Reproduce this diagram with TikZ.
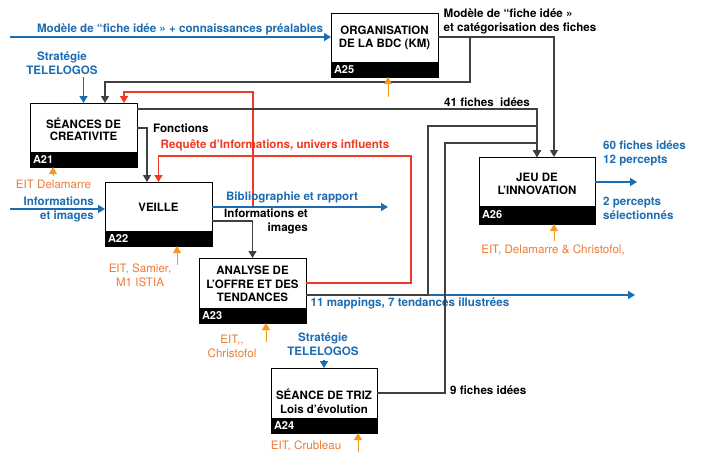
\documentclass[tikz,border=0pt]{standalone}
\usepackage{fontspec}
\setmainfont{TeX Gyre Heros}
\usetikzlibrary{arrows.meta}
\definecolor{idefblue}{RGB}{28,108,178}
\definecolor{idefred}{RGB}{238,58,36}
\definecolor{idefgold}{RGB}{244,154,30}
\definecolor{ideforange}{RGB}{238,122,52}
\tikzset{
  act/.style={draw, line width=1pt, minimum width=107pt, minimum height=64pt, inner sep=0pt, outer sep=0pt},
  num/.style={fill=black, text=white, font=\fontsize{11}{12}\selectfont\bfseries, anchor=south west,
    minimum width=107pt, minimum height=15pt, inner xsep=3pt, inner ysep=0pt, text width=101pt,
    align=left, outer sep=0pt},
  ttl/.style={font=\fontsize{11.5}{12.5}\selectfont\bfseries, align=center, inner sep=0pt},
  lbl/.style={font=\fontsize{11.6}{14}\selectfont\bfseries, align=left, inner sep=0pt},
  blbl/.style={lbl, text=idefblue},
  rlbl/.style={lbl, text=idefred},
  olbl/.style={font=\fontsize{11.6}{14}\selectfont, text=ideforange, align=center, inner sep=0pt},
  flow/.style={draw=idefblue, line width=1.5pt, -{Triangle[width=8pt,length=7pt]}},
  ctrl/.style={draw=black!75, line width=1.1pt, -{Triangle[width=8pt,length=7pt]}},
  req/.style={draw=idefred, line width=1.5pt, -{Triangle[width=8pt,length=7pt]}},
  mech/.style={draw=idefgold, line width=1pt, -{Triangle[width=8pt,length=7pt]}},
}
\begin{document}
\begin{tikzpicture}[x=1pt,y=-1pt]
\useasboundingbox (0,0) rectangle (701,456);
\node[act] (a25) at (384.5,45) {};
\node[num] (n25) at (a25.south west) {A25};
\node[ttl] (t25) at (384.5,38) {ORGANISATION\\DE LA BDC (KM)};
\node[act] (a21) at (83.5,135) {};
\node[num] (n21) at (a21.south west) {A21};
\node[ttl] (t21) at (83.5,129.5) {SÉANCES DE\\CREATIVITE};
\node[act] (a22) at (158.5,214) {};
\node[num] (n22) at (a22.south west) {A22};
\node[ttl] (t22) at (158.5,207) {VEILLE};
\node[act, minimum height=65pt] (a23) at (252.5,290.5) {};
\node[num] (n23) at (a23.south west) {A23};
\node[ttl, font=\fontsize{11.5}{13.5}\selectfont\bfseries] (t23) at (252.5,284) {ANALYSE DE\\L'OFFRE ET DES\\TENDANCES};
\node[act, minimum width=106pt, minimum height=65pt] (a24) at (324,400.5) {};
\node[num, minimum width=106pt, text width=100pt] (n24) at (a24.south west) {A24};
\node[ttl, font=\fontsize{11.5}{14}\selectfont\bfseries] (t24) at (324,401) {SÉANCE DE TRIZ\\Lois d'évolution};
\node[act, minimum width=116pt, minimum height=67pt] (a26) at (537,190.5) {};
\node[num, minimum width=116pt, text width=110pt, minimum height=18pt] (n26) at (a26.south west) {A26};
\node[ttl] (t26) at (537,184) {JEU DE\\L’INNOVATION};

\coordinate (in25) at (10,37);
\coordinate (in22) at (10,209);
\coordinate (bib) at (388,207);
\coordinate (out23) at (635,295);
\coordinate (out26) at (637,182);
\coordinate (s21) at (83.5,77);
\coordinate (s24) at (324,360);
\coordinate (r21) at (253,207);
\coordinate (m25) at (388,97);
\coordinate (m21) at (53,176);
\coordinate (m22) at (177,265);
\coordinate (m23) at (266,342);
\coordinate (m24) at (358,452);
\coordinate (m26) at (554,241);

\draw[flow] (in25) -- (a25.west |- in25);
\node[blbl] (l1) at (180,29) {Modèle de “fiche idée » + connaissances préalables};
\node[blbl, align=center] (l2) at (62,63) {Stratégie\\TELELOGOS};
\draw[flow] (s21) -- (a21.north);
\draw[ctrl] (a25.east |- in25) -| ([xshift=17pt]a26.north);
\draw[ctrl] (470,37) |- (105,82) -- ([xshift=21.5pt]a21.north);
\node[lbl] (l3) at (520,21) {Modèle de “fiche idée »\\et catégorisation des fiches};
\draw[req] (r21) |- (124,92) -- ([xshift=40.5pt]a21.north);
\draw[ctrl] (a21.east |- 0,109) -| (a26.north);
\node[lbl] (l4) at (487,102) {41 fiches\ \ idées};
\draw[ctrl] (a21.east |- 0,128) -| ([xshift=-11.5pt]a22.north);
\node[lbl, anchor=west] (l5) at (153,128) {Fonctions};
\draw[req] (a23.east |- 0,283) -| (411,156) -| (a22.north);
\node[rlbl] (l6) at (275,145) {Requête d'Informations, univers influents};
\draw[flow] (in22) -- (a22.west |- in22);
\node[blbl, align=right, anchor=east] (l7) at (94,209.5) {Informations\\et images};
\draw[flow] (a22.east |- bib) -- (bib);
\node[blbl] (l8) at (292,197) {Bibliographie et rapport};
\draw[ctrl] (a22.east |- 0,221) -| (a23.north);
\node[lbl, align=right, anchor=east] (l9) at (308,221) {Informations et\\images};
\draw[flow] (a23.east |- out23) -- (out23);
\draw[ctrl] (a23.east |- out23) -| (428,126) -| (a26.north);
\node[blbl] (l10) at (410,303) {11 mappings, 7 tendances illustrées};
\draw[ctrl] (a24.east |- 0,393) -| (445,143) -| (a26.north);
\node[lbl, anchor=west] (l11) at (450,390) {9 fiches idées};
\node[blbl, align=center] (l12) at (323,344) {Stratégie\\TELELOGOS};
\draw[flow] (s24) -- (a24.north);
\draw[flow] (a26.east |- out26) -- (out26);
\node[blbl, anchor=west] (l13) at (603,153) {60 fiches idées\\12 percepts};
\node[blbl, anchor=west] (l14) at (603,208) {2 percepts\\sélectionnés};

\draw[mech] (m25) -- (m25 |- a25.south);
\draw[mech] (m21) -- (m21 |- a21.south);
\node[olbl] (o21) at (53.5,184) {EIT Delamarre};
\draw[mech] (m22) -- (m22 |- a22.south);
\node[olbl] (o22) at (140,275) {EIT, Samier,\\M1 ISTIA};
\draw[mech] (m23) -- (m23 |- a23.south);
\node[olbl] (o23) at (232,346) {EIT{,}{,}\\Christofol};
\draw[mech] (m24) -- (m24 |- a24.south);
\node[olbl] (o24) at (306,446) {EIT, Crubleau};
\draw[mech] (m26) -- (m26 |- a26.south);
\node[olbl] (o26) at (553,250) {EIT, Delamarre \& Christofol,};
\end{tikzpicture}
\end{document}
